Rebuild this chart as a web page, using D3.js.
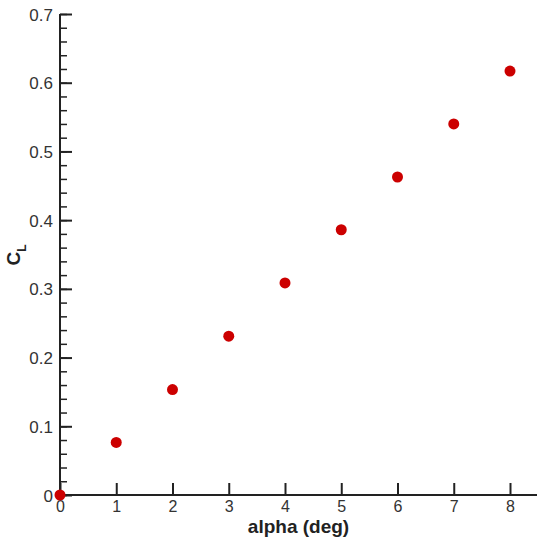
<!DOCTYPE html>
<html><head><meta charset="utf-8">
<script src="https://cdn.jsdelivr.net/npm/d3@7"></script>
<style>body{margin:0;background:#fff}svg{display:block}</style>
</head><body>
<script>
const alpha = [0, 1, 2, 3, 4, 5, 6, 7, 8];
const cl = [0, 0.0765, 0.1535, 0.2312, 0.3087, 0.386, 0.4628, 0.540, 0.617];
const xTicks = [0, 1, 2, 3, 4, 5, 6, 7, 8];
const yTicks = [0, 0.1, 0.2, 0.3, 0.4, 0.5, 0.6, 0.7];
const yMinor = d3.range(0, 0.7001, 0.02);

const W = 537, H = 542;
const svg = d3.select("body").append("svg").attr("width", W).attr("height", H);
const x = d3.scaleLinear().domain([0, 8.48]).range([60, 537]);
const y = d3.scaleLinear().domain([0, 0.7]).range([495, 14]);
const font = "Arial, 'Liberation Sans', sans-serif";

// y minor ticks
const ym = svg.append("g").attr("transform", `translate(${x(0)},0)`)
  .call(d3.axisRight(y).tickValues(yMinor).tickSize(7).tickFormat(""));
ym.select(".domain").remove();
ym.selectAll("line").attr("stroke", "#222").attr("stroke-width", 1.5);

// y major
const ya = svg.append("g").attr("transform", `translate(${x(0)},0)`)
  .call(d3.axisRight(y).tickValues(yTicks).tickSize(12).tickFormat(d3.format("~g")));
ya.select(".domain").remove();
ya.selectAll("line").attr("stroke", "#222").attr("stroke-width", 2);
ya.selectAll("text").attr("x", -7).attr("text-anchor", "end").attr("dy", "0.36em")
  .attr("font-family", font).attr("font-size", 17).attr("fill", "#333");

// x axis
const xa = svg.append("g").attr("transform", `translate(0,${y(0)})`)
  .call(d3.axisTop(x).tickValues(xTicks).tickSize(12).tickFormat(d3.format("d")));
xa.select(".domain").remove();
xa.selectAll("line").attr("stroke", "#222").attr("stroke-width", 2);
xa.selectAll("text").attr("y", 17).attr("dy", 0).attr("dominant-baseline", "auto")
  .attr("font-family", font).attr("font-size", 16).attr("fill", "#333");

// axis lines
svg.append("line").attr("x1", x(0)).attr("x2", x(0)).attr("y1", y(0.7)).attr("y2", y(0))
  .attr("stroke", "#222").attr("stroke-width", 2);
svg.append("line").attr("x1", x(0)).attr("x2", x.range()[1]).attr("y1", y(0)).attr("y2", y(0))
  .attr("stroke", "#222").attr("stroke-width", 2);

// points
svg.append("g").selectAll("circle").data(alpha).join("circle")
  .attr("cx", d => x(d)).attr("cy", (d, i) => y(cl[i])).attr("r", 5.5)
  .attr("fill", "#cc0000");

// titles
svg.append("text").attr("x", 298.5).attr("y", 533).attr("text-anchor", "middle")
  .attr("font-family", font).attr("font-size", 19).attr("font-weight", "bold").attr("fill", "#222")
  .text("alpha (deg)");
const yt = svg.append("text").attr("transform", "translate(20,255) rotate(-90)")
  .attr("text-anchor", "middle").attr("font-family", font).attr("font-weight", "bold").attr("fill", "#222");
yt.append("tspan").attr("font-size", 19).text("C");
yt.append("tspan").attr("font-size", 12).attr("dy", 6).text("L");
</script>
</body></html>
